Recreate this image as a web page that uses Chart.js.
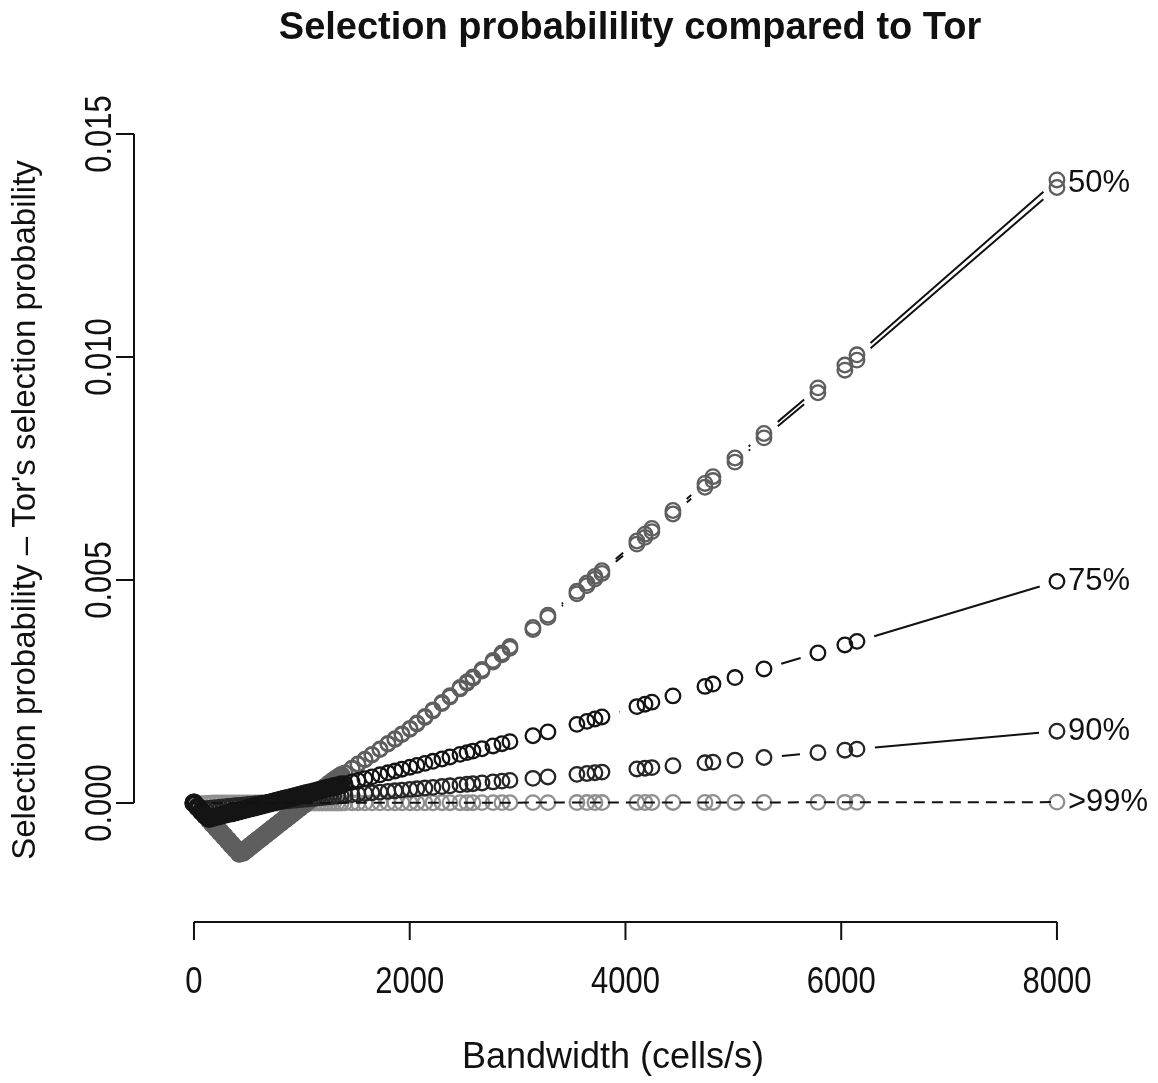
<!DOCTYPE html>
<html>
<head>
<meta charset="utf-8">
<title>Selection probabilility compared to Tor</title>
<script src="https://cdn.jsdelivr.net/npm/chart.js@4.4.1/dist/chart.umd.min.js"></script>
<style>
  html, body { margin: 0; padding: 0; background: #fff; }
  #wrap { width: 1158px; height: 1083px; }
</style>
</head>
<body>
<div id="wrap"><canvas id="torChart" width="1158" height="1083"></canvas></div>
<script>
// ==================== DATA ====================
// relay bandwidth (cells/s), shared by every series
const bandwidth = [
  0, 35, 70, 105, 140, 175, 210, 245, 280, 315, 350, 385, 420, 455, 490, 525, 560, 595, 630, 665,
  700, 735, 770, 805, 840, 875, 910, 945, 980, 1015, 1050, 1085, 1120, 1155, 1190, 1225, 1260, 1295, 1330, 1365,
  1400, 1465, 1520, 1585, 1650, 1724, 1798, 1863, 1928, 2002, 2067, 2141, 2215, 2299, 2373, 2466, 2531, 2586, 2670, 2772,
  2855, 2929, 3142, 3281, 3550, 3643, 3717, 3782, 4106, 4181, 4245, 4440, 4737, 4811, 5015, 5284, 5784, 6034, 6146, 8000
];

// selection probability - Tor's selection probability
const p50a = [
  0, -0.000093, -0.000186, -0.000278, -0.000371, -0.000464, -0.000557, -0.000649, -0.000742, -0.000835,
  -0.000928, -0.00102, -0.001113, -0.001091, -0.001025, -0.000958, -0.000892, -0.000826, -0.00076, -0.000693,
  -0.000627, -0.000561, -0.000495, -0.000429, -0.000362, -0.000296, -0.00023, -0.000164, -0.000098, -0.000031,
  0.000035, 0.000101, 0.000167, 0.000234, 0.0003, 0.000366, 0.000432, 0.000495, 0.000552, 0.000609,
  0.000667, 0.000773, 0.000864, 0.00097, 0.001077, 0.001198, 0.00132, 0.001426, 0.001533, 0.001654,
  0.001773, 0.001918, 0.002064, 0.002229, 0.002375, 0.002558, 0.002686, 0.002794, 0.00296, 0.00316,
  0.003324, 0.003469, 0.003888, 0.004162, 0.004691, 0.004874, 0.00502, 0.005148, 0.005804, 0.005956,
  0.006085, 0.00648, 0.00708, 0.00723, 0.007643, 0.008187, 0.009198, 0.009704, 0.00993, 0.0138
];
const p50b = [
  0, -0.000094, -0.000188, -0.000281, -0.000375, -0.00047, -0.000564, -0.000657, -0.000751, -0.000845,
  -0.000939, -0.001032, -0.001126, -0.001104, -0.001037, -0.00097, -0.000903, -0.000836, -0.000769, -0.000701,
  -0.000635, -0.000568, -0.000501, -0.000434, -0.000366, -0.0003, -0.000233, -0.000166, -0.000099, -0.000031,
  0.000035, 0.000102, 0.000169, 0.000237, 0.000304, 0.00037, 0.000437, 0.000501, 0.000559, 0.000616,
  0.000675, 0.000782, 0.000874, 0.000982, 0.00109, 0.001212, 0.001336, 0.001443, 0.001551, 0.001674,
  0.001794, 0.001941, 0.002089, 0.002256, 0.002404, 0.002589, 0.002718, 0.002828, 0.002996, 0.003198,
  0.003364, 0.003511, 0.003935, 0.004212, 0.004747, 0.004932, 0.00508, 0.00521, 0.005874, 0.006027,
  0.006158, 0.006558, 0.007165, 0.007317, 0.007735, 0.008285, 0.009308, 0.00982, 0.010049, 0.01397
];
const p75 = [
  0, -0.000092, -0.000184, -0.000276, -0.000346, -0.000324, -0.000303, -0.000281, -0.000259, -0.000238,
  -0.000216, -0.000195, -0.000173, -0.000151, -0.00013, -0.000108, -0.000087, -0.000065, -0.000043, -0.000022,
  0, 0.000021, 0.000043, 0.000065, 0.000086, 0.000108, 0.000129, 0.000151, 0.000173, 0.000194,
  0.000216, 0.000237, 0.000259, 0.000281, 0.000302, 0.000324, 0.000345, 0.000367, 0.000388, 0.00041,
  0.000431, 0.000472, 0.000506, 0.000546, 0.000586, 0.000632, 0.000677, 0.000717, 0.000758, 0.000803,
  0.000843, 0.000889, 0.000935, 0.000987, 0.001032, 0.00109, 0.00113, 0.001164, 0.001216, 0.001279,
  0.00133, 0.001376, 0.001508, 0.001594, 0.001763, 0.00183, 0.001883, 0.001929, 0.002162, 0.002215,
  0.002261, 0.002401, 0.002614, 0.002667, 0.002813, 0.003006, 0.003365, 0.003544, 0.003624, 0.00497
];
const p90 = [
  0, -0.000093, -0.000136, -0.000128, -0.00012, -0.000112, -0.000104, -0.000095, -0.000087, -0.000079,
  -0.000071, -0.000063, -0.000055, -0.000047, -0.000039, -0.00003, -0.000022, -0.000014, -0.000006, 0.000002,
  0.00001, 0.000018, 0.000026, 0.000034, 0.000043, 0.000051, 0.000059, 0.000067, 0.000075, 0.000083,
  0.000091, 0.000099, 0.000107, 0.000115, 0.000124, 0.000132, 0.00014, 0.000148, 0.000156, 0.000164,
  0.000173, 0.000188, 0.0002, 0.000214, 0.000228, 0.000244, 0.00026, 0.000274, 0.000289, 0.000305,
  0.000319, 0.000335, 0.000351, 0.000369, 0.000386, 0.000406, 0.00042, 0.000432, 0.00045, 0.000473,
  0.000491, 0.000507, 0.000553, 0.000584, 0.000642, 0.000662, 0.000679, 0.000693, 0.000763, 0.00078,
  0.000794, 0.000836, 0.000901, 0.000917, 0.000962, 0.00102, 0.001129, 0.001184, 0.001208, 0.00161
];
const p99 = [
  0, -0.00002, -0.000015, -0.00001, -0.000005, 0, 0, 0, 0, 0,
  0, 0, 0, 0, 0, 0, 0, 0, 0, 0,
  0, 0, 0, 0, 0, 0, 0, 0, 0, 0,
  0, 0, 0, 0, 0, 0, 0, 0, 0, 0,
  0.000004, 0.000004, 0.000004, 0.000004, 0.000005, 0.000005, 0.000005, 0.000005, 0.000005, 0.000006,
  0.000006, 0.000006, 0.000006, 0.000007, 0.000007, 0.000007, 0.000007, 0.000007, 0.000008, 0.000008,
  0.000008, 0.000008, 0.000009, 0.000009, 0.00001, 0.00001, 0.00001, 0.00001, 0.000011, 0.000011,
  0.000011, 0.000012, 0.000012, 0.000012, 0.000013, 0.000013, 0.000015, 0.000015, 0.000016, 0.00002
];

const seriesNames = ["50%", "75%", "90%", ">99%"];
const xTicks = [0, 2000, 4000, 6000, 8000];
const xTickLabels = ["0", "2000", "4000", "6000", "8000"];
const yTicks = [0, 0.005, 0.010, 0.015];
const yTickLabels = ["0.000", "0.005", "0.010", "0.015"];

const TITLE = "Selection probabilility compared to Tor";
const X_TITLE = "Bandwidth (cells/s)";
const Y_TITLE = "Selection probability \u2013 Tor's selection probability";

// ==================== HELPERS ====================
const FONT = '"Liberation Sans", Arial, Helvetica, sans-serif';
const INK = "#111";
const GAP = 18;        // R type="b": line stops short of each circle
const DENSE_BW = 1380; // below this the relays pile up into a solid band

function toPoints(ys) {
  return bandwidth.map((x, i) => ({ x, y: ys[i] }));
}

function drawText(ctx, text, x, y, o) {
  ctx.save();
  ctx.translate(x, y);
  ctx.rotate(o.angle || 0);
  ctx.scale(o.squeeze || 1, 1);
  ctx.font = `${o.bold ? "bold " : ""}${o.size}px ${FONT}`;
  ctx.textAlign = o.align || "center";
  ctx.textBaseline = "middle";
  ctx.fillStyle = INK;
  ctx.fillText(text, 0, 0);
  ctx.restore();
}

function circleSeries(ys, color, opts) {
  const o = opts || {};
  return {
    data: toPoints(ys),
    showLine: false,
    pointRadius: 7.3,
    pointHoverRadius: 7.3,
    pointBorderWidth: c => (o.thickLow && c.raw && c.raw.x < DENSE_BW ? 4.5 : 2.3),
    pointBorderColor: color,
    pointBackgroundColor: "rgba(0,0,0,0)",
    lineMode: o.lineMode || "gap",
  };
}

// lines between circles: gapped (type "b") or dashed straight through
const seriesLines = {
  id: "seriesLines",
  afterDatasetsDraw(chart) {
    const ctx = chart.ctx;
    ctx.save();
    ctx.strokeStyle = INK;
    ctx.lineWidth = 2;
    chart.data.datasets.forEach((ds, i) => {
      const pts = chart.getDatasetMeta(i).data;
      ctx.beginPath();
      if (ds.lineMode === "dashed") {
        ctx.setLineDash([11, 7]);
        pts.forEach((p, k) => (k ? ctx.lineTo(p.x, p.y) : ctx.moveTo(p.x, p.y)));
        ctx.stroke();
        ctx.setLineDash([]);
        return;
      }
      for (let k = 1; k < pts.length; k++) {
        const a = pts[k - 1], b = pts[k];
        const dx = b.x - a.x, dy = b.y - a.y;
        const d = Math.hypot(dx, dy);
        if (d <= 2 * GAP) continue;
        const ux = dx / d, uy = dy / d;
        ctx.moveTo(a.x + ux * GAP, a.y + uy * GAP);
        ctx.lineTo(b.x - ux * GAP, b.y - uy * GAP);
      }
      ctx.stroke();
    });
    ctx.restore();
  }
};

// R style axes, titles and end labels
const rAxes = {
  id: "rAxes",
  afterDraw(chart) {
    const { ctx, chartArea, scales: { x, y } } = chart;
    const yb = chartArea.bottom, xl = chartArea.left;
    ctx.save();
    ctx.strokeStyle = INK;
    ctx.lineWidth = 2;
    ctx.beginPath();
    ctx.moveTo(x.getPixelForValue(xTicks[0]), yb);
    ctx.lineTo(x.getPixelForValue(xTicks[xTicks.length - 1]), yb);
    xTicks.forEach(t => {
      const px = x.getPixelForValue(t);
      ctx.moveTo(px, yb);
      ctx.lineTo(px, yb + 18);
    });
    ctx.moveTo(xl, y.getPixelForValue(yTicks[0]));
    ctx.lineTo(xl, y.getPixelForValue(yTicks[yTicks.length - 1]));
    yTicks.forEach(t => {
      const py = y.getPixelForValue(t);
      ctx.moveTo(xl, py);
      ctx.lineTo(xl - 18, py);
    });
    ctx.stroke();
    ctx.restore();

    xTicks.forEach((t, i) => drawText(ctx, xTickLabels[i], x.getPixelForValue(t), 983, { size: 36, squeeze: 0.86 }));
    yTicks.forEach((t, i) => drawText(ctx, yTickLabels[i], 101, y.getPixelForValue(t), { size: 36, squeeze: 0.86, angle: -Math.PI / 2 }));

    drawText(ctx, TITLE, 630, 29, { size: 38, bold: true });
    drawText(ctx, X_TITLE, 613, 1058, { size: 36 });
    drawText(ctx, Y_TITLE, 26, 510, { size: 33, angle: -Math.PI / 2 });

    const last = bandwidth.length - 1;
    const ends = [(p50a[last] + p50b[last]) / 2, p75[last], p90[last], p99[last]];
    ends.forEach((v, i) => drawText(ctx, seriesNames[i], 1068, y.getPixelForValue(v), { size: 31, align: "left" }));
  }
};

// ==================== CHART ====================
document.addEventListener("DOMContentLoaded", () => {
  const ctx = document.getElementById("torChart").getContext("2d");
  new Chart(ctx, {
    type: "scatter",
    data: {
      // first dataset is painted last (on top)
      datasets: [
        circleSeries(p75, "#141414", { thickLow: true }),
        circleSeries(p90, "#262626"),
        circleSeries(p50b, "#5e5e5e", { thickLow: true }),
        circleSeries(p50a, "#5e5e5e", { thickLow: true }),
        circleSeries(p99, "#8f8f8f", { lineMode: "dashed" }),
      ]
    },
    options: {
      responsive: false,
      animation: false,
      devicePixelRatio: 1,
      layout: { padding: { left: 134, right: 32, top: 98, bottom: 161 } },
      plugins: {
        legend: { display: false },
        title: { display: false },
        tooltip: { enabled: false }
      },
      scales: {
        x: { type: "linear", min: -556, max: 8640, display: false },
        y: { type: "linear", min: -0.002668, max: 0.015807, display: false }
      }
    },
    plugins: [seriesLines, rAxes]
  });
});
</script>
</body>
</html>
